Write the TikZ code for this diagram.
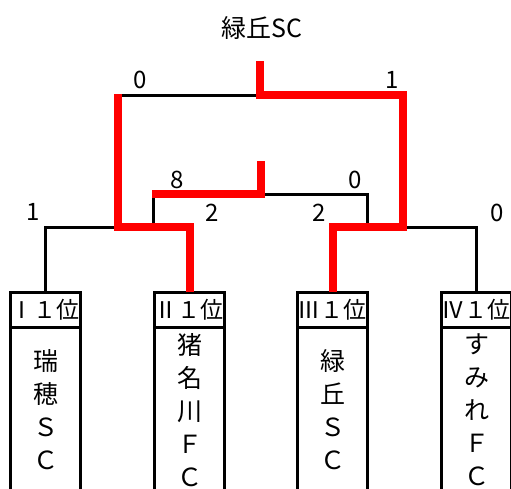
\documentclass[tikz,border=0pt]{standalone}
\usepackage{fontspec}
\newfontfamily\jp{Noto Sans CJK JP}
\newfontfamily\jpfw[RawFeature=+fwid]{Noto Sans CJK JP}
\usetikzlibrary{positioning}

\tikzset{
  lose/.style={black, line width=3pt},
  win/.style={red, line width=8pt},
  score/.style={font=\jp\fontsize{24}{24}\selectfont, inner sep=0pt},
  head/.style={draw, line width=3pt, minimum width=70pt, minimum height=35pt, inner sep=0pt, outer sep=0pt},
  headtext/.style={anchor=west, inner sep=0pt, font=\jpfw\fontsize{23}{23}\selectfont},
  body/.style={draw, line width=3pt, minimum width=70pt, minimum height=166pt, anchor=north, outer sep=0pt,
    align=center, inner sep=0pt, font=\jp\fontsize{25}{33}\selectfont}
}

\begin{document}
\begin{tikzpicture}[x=1pt, y=-1pt]
    \useasboundingbox (0,0) rectangle (511,488);

    \node[font=\jp\fontsize{25}{25}\selectfont] (champ) at (262,28) {緑丘SC};

    % team boxes
    \node[head] (h1) at (45.5,309.5) {};
    \node[head] (h2) at (189.5,309.5) {};
    \node[head] (h3) at (332.5,309.5) {};
    \node[head] (h4) at (476.5,309.5) {};
    \node[headtext] at (h1.west) {Ⅰ１位};
    \node[headtext] at (h2.west) {Ⅱ１位};
    \node[headtext] at (h3.west) {Ⅲ１位};
    \node[headtext] at (h4.west) {Ⅳ１位};
    \node[body] (b1) at (h1.south) {瑞\\穂\\Ｓ\\Ｃ};
    \node[body] (b2) at (h2.south) {猪\\名\\川\\Ｆ\\Ｃ};
    \node[body] (b3) at (h3.south) {緑\\丘\\Ｓ\\Ｃ};
    \node[body] (b4) at (h4.south) {す\\み\\れ\\Ｆ\\Ｃ};

    % bracket joints
    \coordinate (f) at (260,61);
    \coordinate (fm) at (260,95);
    \coordinate (fl) at (117.5,95);
    \coordinate (fl0) at (117.5,94);
    \coordinate (fr) at (403,95);
    \coordinate (s) at (261,161);
    \coordinate (sm) at (261,194);
    \coordinate (sl) at (153.5,194);
    \coordinate (sr) at (367.5,194);
    \coordinate (ll) at (117.5,227);
    \coordinate (l1) at (45.5,227);
    \coordinate (l2) at (189.5,227);
    \coordinate (sl0) at (153.5,227);
    \coordinate (rr) at (403,227);
    \coordinate (r3) at (332.5,227);
    \coordinate (r4) at (476.5,227);
    \coordinate (sr0) at (367.5,227);

    \draw[lose] (h1.north) -- (l1) -- (ll);
    \draw[lose] (h4.north) -- (r4) -- (rr);
    \draw[lose] (fl) -- (fm);
    \draw[lose] (sl0) -- (sl);
    \draw[lose] (sm) -- (sr) -- (sr0);

    \draw[win] (h2.north) -- (l2) -- (ll) -- (fl0);
    \draw[win] (h3.north) -- (r3) -- (rr) -- (fr) -- (fm) -- (f);
    \draw[win] (152,194) -- (sm) -- (s);

    % scores
    \node[score] (s1) at (33,212) {1};
    \node[score] (s2) at (212,213) {2};
    \node[score] (s3) at (319,213) {2};
    \node[score] (s4) at (497,213) {0};
    \node[score] (s5) at (177,180) {8};
    \node[score] (s6) at (355,180) {0};
    \node[score] (s7) at (140,80) {0};
    \node[score] (s8) at (392,80) {1};
\end{tikzpicture}
\end{document}
